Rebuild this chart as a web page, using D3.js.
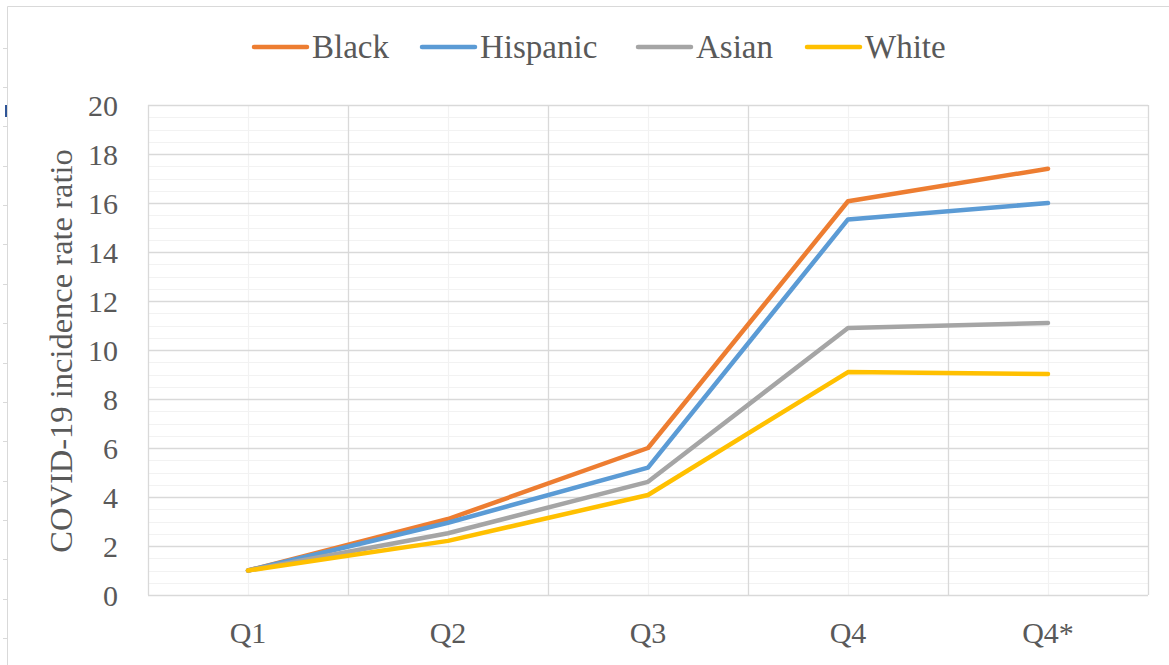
<!DOCTYPE html>
<html><head><meta charset="utf-8">
<script src="https://cdn.jsdelivr.net/npm/d3@7"></script>
<style>html,body{margin:0;padding:0;background:#fff;}</style>
</head><body>
<svg id="chart" width="1169" height="665"></svg>
<script>
const categories = ["Q1","Q2","Q3","Q4","Q4*"];
const seriesNames = ["Black","Hispanic","Asian","White"];
const black    = [1.0, 3.1, 6.0, 16.07, 17.4];
const hispanic = [1.0, 2.95, 5.2, 15.33, 16.0];
const asian    = [1.0, 2.52, 4.62, 10.9, 11.1];
const white    = [1.0, 2.21, 4.08, 9.1, 9.02];
const yTicks = [0,2,4,6,8,10,12,14,16,18,20];
const colors = ["#ED7D31","#5B9BD5","#A5A5A5","#FFC000"];
const seriesValues = [black, hispanic, asian, white];

const svg = d3.select("#chart");
const font = "'Liberation Serif','Times New Roman',serif";
const textColor = "#595959";

// outer border
svg.append("path").attr("d","M7.5,665 L7.5,6.5 L1169,6.5").attr("fill","none").attr("stroke","#d9d9d9").attr("stroke-width",1);
for (let yy = 47.7; yy < 665; yy += 39.35) {
  svg.append("line").attr("x1",3).attr("x2",7).attr("y1",Math.round(yy)+0.5).attr("y2",Math.round(yy)+0.5).attr("stroke","#d9d9d9");
}
svg.append("rect").attr("x",5).attr("y",105).attr("width",2).attr("height",12).attr("fill","#2F5597");

const m = {left:148, right:1148, top:105, bottom:595};
const x = d3.scaleBand().domain(categories).range([m.left, m.right]).padding(0);
const y = d3.scaleLinear().domain([0,20]).range([m.bottom, m.top]);

const g = svg.append("g");
// minor horizontal gridlines
g.selectAll(".hmin").data(d3.range(0,20.01,0.5).filter(v=>v%2!==0)).enter().append("line")
  .attr("x1",m.left).attr("x2",m.right).attr("y1",d=>Math.round(y(d))+0.5).attr("y2",d=>Math.round(y(d))+0.5)
  .attr("stroke","#f2f2f2").attr("stroke-width",1.2);
// minor vertical at category centers
g.selectAll(".vmin").data(categories).enter().append("line")
  .attr("y1",m.top).attr("y2",m.bottom).attr("x1",d=>Math.round(x(d)+x.bandwidth()/2)+0.5).attr("x2",d=>Math.round(x(d)+x.bandwidth()/2)+0.5)
  .attr("stroke","#f2f2f2").attr("stroke-width",1.2);
// major horizontal
g.selectAll(".hmaj").data(yTicks).enter().append("line")
  .attr("x1",m.left).attr("x2",m.right).attr("y1",d=>Math.round(y(d))+0.5).attr("y2",d=>Math.round(y(d))+0.5)
  .attr("stroke","#d9d9d9").attr("stroke-width",1.3);
// major vertical at band boundaries
const bounds = categories.map(c=>x(c)).concat([m.right]);
g.selectAll(".vmaj").data(bounds).enter().append("line")
  .attr("y1",m.top).attr("y2",m.bottom).attr("x1",d=>Math.round(d)+0.5).attr("x2",d=>Math.round(d)+0.5)
  .attr("stroke","#d9d9d9").attr("stroke-width",1.3);

// y tick labels
svg.selectAll(".ylab").data(yTicks).enter().append("text")
  .attr("x",118).attr("y",d=>y(d)).attr("dy","0.35em").attr("text-anchor","end")
  .attr("font-family",font).attr("font-size",30).attr("fill",textColor).text(d=>d);
// x tick labels
svg.selectAll(".xlab").data(categories).enter().append("text")
  .attr("x",d=>x(d)+x.bandwidth()/2).attr("y",643).attr("text-anchor","middle")
  .attr("font-family",font).attr("font-size",30).attr("fill",textColor).text(d=>d);
// y axis title
svg.append("text").attr("transform","translate(72,351) rotate(-90)").attr("text-anchor","middle")
  .attr("font-family",font).attr("font-size",32.5).attr("fill",textColor).text("COVID-19 incidence rate ratio");

// lines
const line = d3.line().x((d,i)=>x(categories[i])+x.bandwidth()/2).y(d=>y(d));
seriesValues.forEach((vals,i)=>{
  svg.append("path").datum(vals).attr("d",line).attr("fill","none")
    .attr("stroke",colors[i]).attr("stroke-width",4.5).attr("stroke-linejoin","round").attr("stroke-linecap","round");
});

// legend
const legendStarts = [253, 421, 637, 806];
seriesNames.forEach((name,i)=>{
  const lx = legendStarts[i];
  svg.append("line").attr("x1",lx+1).attr("x2",lx+54).attr("y1",47).attr("y2",47)
    .attr("stroke",colors[i]).attr("stroke-width",4.5).attr("stroke-linecap","round");
  svg.append("text").attr("x",lx+59).attr("y",58)
    .attr("font-family",font).attr("font-size",33).attr("fill",textColor).text(name);
});
</script>
</body></html>
